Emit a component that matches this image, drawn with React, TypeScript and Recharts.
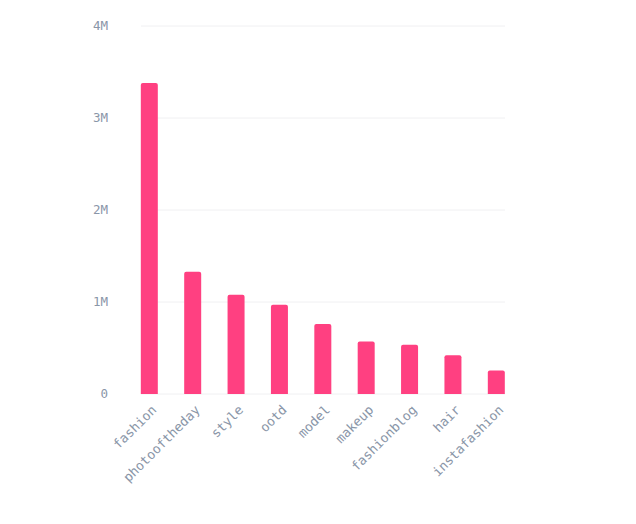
import React from "react";
import { BarChart, Bar, XAxis, YAxis, CartesianGrid } from "recharts";

const categories = ["fashion", "photooftheday", "style", "ootd", "model", "makeup", "fashionblog", "hair", "instafashion"];
const posts = [3380000, 1330000, 1080000, 970000, 760000, 570000, 535000, 420000, 255000];
const yTicks = [0, 1000000, 2000000, 3000000, 4000000];

const data = categories.map((c, i) => ({ tag: c, posts: posts[i] }));

const FONT = "'DejaVu Sans Mono', 'Liberation Mono', monospace";
const TXT = "#8a96a8";

const fmt = (v: number) => (v === 0 ? "0" : `${v / 1000000}M`);

const XTick = (props: any) => {
  const { x, y, payload } = props;
  return (
    <g transform={`translate(${x + 5},${y + 6})`}>
      <text
        x={0}
        y={0}
        dy={4}
        textAnchor="end"
        transform="rotate(-45)"
        fill={TXT}
        fontSize={13}
        fontFamily={FONT}
      >
        {payload.value}
      </text>
    </g>
  );
};

export default function App() {
  return (
    <div style={{ width: 620, height: 508, background: "#fff" }}>
      <BarChart
        width={620}
        height={508}
        data={data}
        margin={{ top: 18, right: 123, bottom: 0, left: 0 }}
      >
        <CartesianGrid vertical={false} stroke="#f0f0f2" />
        <XAxis
          dataKey="tag"
          scale="point"
          padding={{ left: 8.5, right: 8.5 }}
          axisLine={false}
          tickLine={false}
          interval={0}
          height={122}
          tick={<XTick />}
        />
        <YAxis
          domain={[0, 4000000]}
          ticks={yTicks}
          tickFormatter={fmt}
          axisLine={false}
          tickLine={false}
          tickSize={0}
          tickMargin={33}
          width={133}
          tick={{ fill: TXT, fontSize: 12.5, fontFamily: FONT }}
        />
        <Bar dataKey="posts" fill="#ff4081" barSize={17} radius={[2, 2, 0, 0]} isAnimationActive={false} />
      </BarChart>
    </div>
  );
}
